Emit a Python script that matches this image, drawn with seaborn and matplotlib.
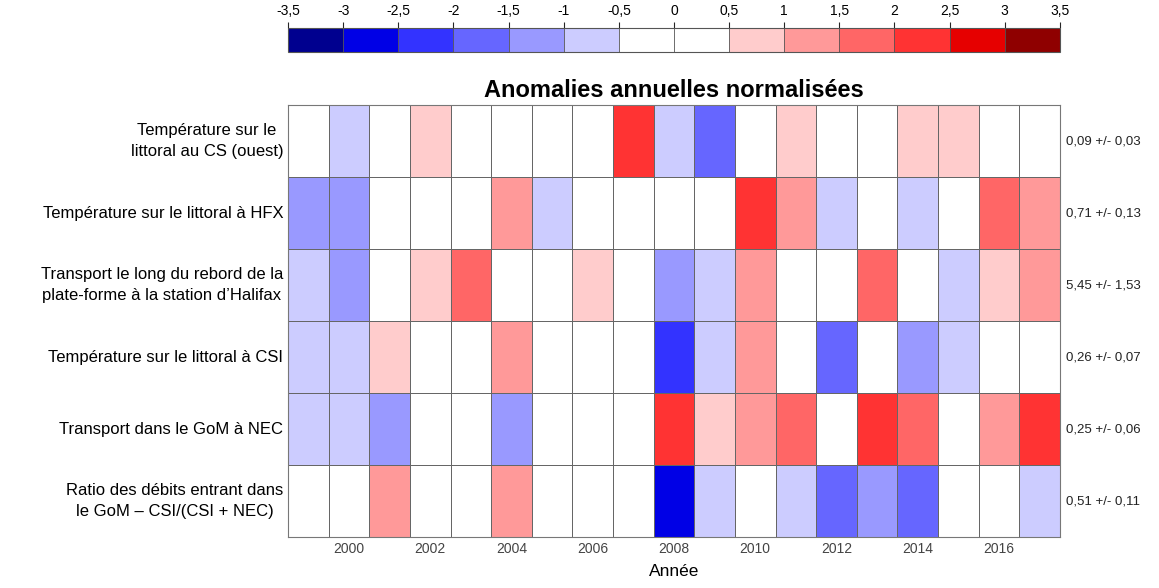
import numpy as np
import pandas as pd
import matplotlib
matplotlib.use("Agg")
import matplotlib.pyplot as plt
from matplotlib.colors import ListedColormap, BoundaryNorm
import seaborn as sns

sns.set_style("white")
plt.rcParams['font.family'] = ['Liberation Sans', 'DejaVu Sans']

years = list(range(1999, 2018))
series = ["Température sur le\nlittoral au CS (ouest)",
          "Température sur le littoral à HFX",
          "Transport le long du rebord de la\nplate-forme à la station d’Halifax",
          "Température sur le littoral à CSI",
          "Transport dans le GoM à NEC",
          "Ratio des débits entrant dans\nle GoM – CSI/(CSI + NEC)"]
stats = ["0,09 +/- 0,03", "0,71 +/- 0,13", "5,45 +/- 1,53",
         "0,26 +/- 0,07", "0,25 +/- 0,06", "0,51 +/- 0,11"]

# anomalies (estimated from colour class)
cs_ouest = [0.1, -0.75, 0.2, 0.75, -0.1, 0.3, 0.1, 0.2, 2.25, -0.75,
            -1.75, 0.3, 0.75, 0.1, -0.2, 0.75, 0.75, 0.2, -0.1]
hfx = [-1.25, -1.25, 0.2, 0.1, -0.2, 1.25, -0.75, 0.3, 0.1, -0.3,
       0.2, 2.25, 1.25, -0.75, 0.1, -0.75, -0.2, 1.75, 1.25]
rebord = [-0.75, -1.25, 0.1, 0.75, 1.75, 0.2, -0.2, 0.75, 0.3, -1.25,
          -0.75, 1.25, 0.1, -0.3, 1.75, 0.2, -0.75, 0.75, 1.25]
csi = [-0.75, -0.75, 0.75, 0.2, -0.1, 1.25, 0.1, 0.3, -0.2, -2.25,
       -0.75, 1.25, 0.2, -1.75, 0.1, -1.25, -0.75, 0.3, 0.1]
nec = [-0.75, -0.75, -1.25, 0.1, 0.3, -1.25, 0.2, -0.1, 0.1, 2.25,
       0.75, 1.25, 1.75, -0.2, 2.25, 1.75, 0.1, 1.25, 2.25]
ratio = [0.2, -0.1, 1.25, 0.1, 0.3, 1.25, -0.2, 0.1, 0.2, -2.75,
         -0.75, 0.2, -0.75, -1.75, -1.25, -1.75, 0.1, 0.3, -0.75]

bounds = np.arange(-3.5, 3.51, 0.5)
colors = ["#00008F", "#0000E6", "#3333FF", "#6666FF", "#9999FF", "#CCCCFF",
          "#FFFFFF", "#FFFFFF", "#FFCCCC", "#FF9999", "#FF6666", "#FF3333",
          "#E60000", "#8F0000"]
cmap = ListedColormap(colors)
norm = BoundaryNorm(bounds, cmap.N)

df = pd.DataFrame([cs_ouest, hfx, rebord, csi, nec, ratio],
                  index=series, columns=years)

fig = plt.figure(figsize=(11.59, 5.88), dpi=100)
ax = fig.add_axes([0.2485, 0.0867, 0.666, 0.7347])
cax = fig.add_axes([0.2485, 0.9116, 0.666, 0.0408])

sns.heatmap(df, ax=ax, cmap=cmap, norm=norm, linewidths=0.7,
            linecolor="#666666", cbar=True, cbar_ax=cax,
            cbar_kws={"orientation": "horizontal", "ticks": bounds,
                      "drawedges": True})

for sp in ax.spines.values():
    sp.set_visible(True)
    sp.set_color("#777777")
    sp.set_linewidth(0.8)

xt = [i + 0.5 for i, y in enumerate(years) if y % 2 == 0]
ax.set_xticks(xt)
ax.set_xticklabels([str(y) for y in years if y % 2 == 0], rotation=0,
                   fontsize=10, color="#444444")
ax.tick_params(axis="both", length=0)
ax.set_yticklabels(series, rotation=0, fontsize=12, multialignment="center",
                   linespacing=1.45, color="black")
ax.set_xlabel("Année", fontsize=12.5, labelpad=6, color="black")
ax.set_ylabel("")
ax.set_title("Anomalies annuelles normalisées", fontsize=17,
             fontweight="bold", pad=6, color="black")

for i, s in enumerate(stats):
    ax.text(len(years) + 0.15, i + 0.5, s, va="center", ha="left",
            fontsize=9.5, color="#222222")

cax.xaxis.set_ticks_position("top")
cax.set_xticklabels([f"{b:g}".replace(".", ",") for b in bounds],
                    fontsize=10, color="black")
cax.tick_params(length=4, pad=3, width=0.8)
cb = ax.collections[0].colorbar
cb.outline.set_linewidth(0.8)
cb.outline.set_edgecolor("#555555")
cb.dividers.set_color("#555555")
cb.dividers.set_linewidth(0.6)

fig.savefig("out.png", dpi=100)
